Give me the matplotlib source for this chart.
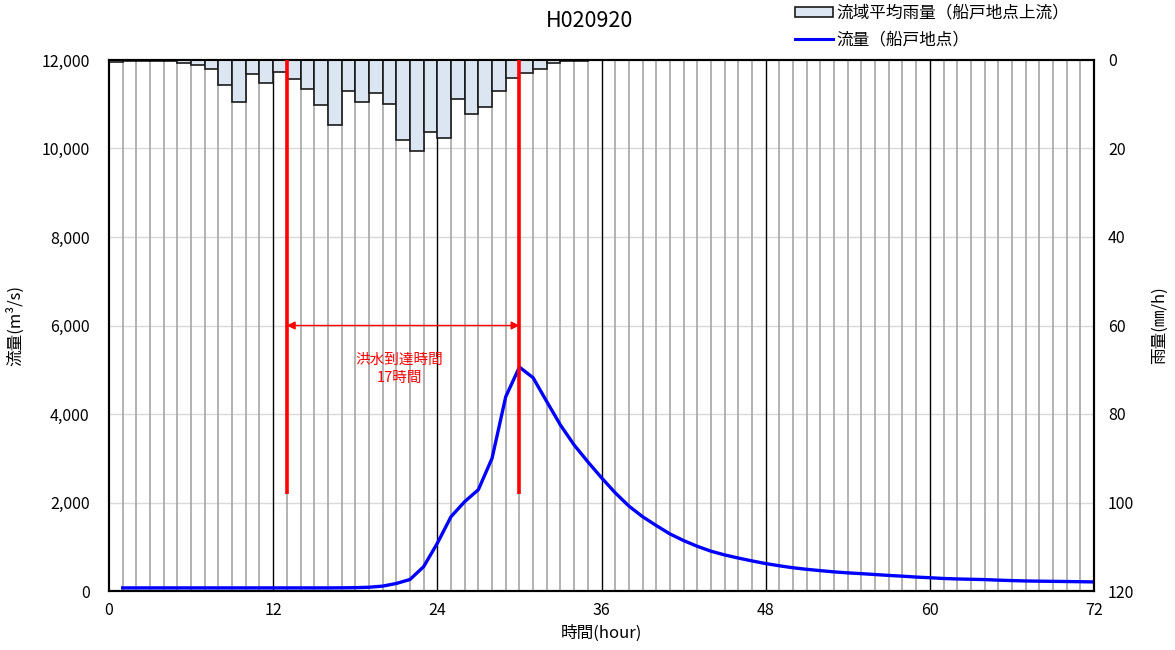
import matplotlib
matplotlib.use("Agg")
import matplotlib.pyplot as plt
from matplotlib.patches import Patch
from matplotlib.lines import Line2D

plt.rcParams['font.family'] = ['Noto Sans CJK JP', 'DejaVu Sans']

title = "H020920"
rain_hours = list(range(0, 36))
rain_mm = [0.4, 0.3, 0.3, 0.3, 0.2, 0.7, 1.1, 2.0, 5.6, 9.6, 3.2, 5.3,
           2.7, 4.4, 6.6, 10.2, 14.7, 6.9, 9.6, 7.4, 10.0, 18.1, 20.6, 16.3,
           17.7, 8.8, 12.2, 10.7, 7.1, 4.1, 3.0, 2.0, 0.7, 0.2, 0.2, 0.1]
flow_hours = list(range(1, 73))
flow = [70, 70, 70, 70, 70, 70, 70, 70, 70, 70, 70, 70, 70, 70, 70, 70,
        72, 75, 85, 110, 170, 260, 550, 1080, 1680, 2020, 2290, 3000,
        4390, 5060, 4820, 4280, 3750, 3300, 2920, 2560, 2220, 1920, 1680,
        1480, 1290, 1140, 1010, 900, 815, 745, 680, 620, 570, 525, 490,
        460, 432, 410, 392, 372, 352, 335, 315, 300, 283, 272, 265, 258,
        245, 235, 227, 222, 218, 214, 210, 205]
x_ticks = [0, 12, 24, 36, 48, 60, 72]
flow_ticks = [0, 2000, 4000, 6000, 8000, 10000, 12000]
rain_ticks = [0, 20, 40, 60, 80, 100, 120]
arrival_start = 13
arrival_end = 30
red_line_bottom = 2200
arrow_level = 6000
rain_label = "流域平均雨量（船戸地点上流）"
flow_label = "流量（船戸地点）"

fig = plt.figure(figsize=(11.75, 6.5), dpi=100)
ax = fig.add_axes([109/1175, 1-591/650, (1094-109)/1175, (591-60)/650])
ax.set_xlim(0, 72)
ax.set_ylim(0, 12000)

# grid lines
for h in range(1, 72):
    c = 'black' if h % 12 == 0 else '#a6a6a6'
    lw = 1.0 if h % 12 == 0 else 1.2
    ax.axvline(h, color=c, lw=lw, zorder=1)
for v in flow_ticks[1:-1]:
    ax.axhline(v, color='#d9d9d9', lw=1.0, zorder=0.5)

ax.plot(flow_hours, flow, color='#0000ff', lw=2.4, zorder=5)

ax.annotate('', xy=(arrival_start, arrow_level), xytext=(arrival_end, arrow_level),
            arrowprops=dict(arrowstyle='<|-|>', color='#ff0000', lw=1.0,
                            mutation_scale=12, shrinkA=0, shrinkB=0), zorder=6)
ax.text(21.2, 5380, "洪水到達時間\n17時間",
        color='#ff0000', fontsize=10.5, ha='center', va='top', linespacing=1.4, zorder=6)

ax.set_xticks(x_ticks)
ax.set_yticks(flow_ticks)
ax.set_yticklabels([f"{v:,}" for v in flow_ticks])
ax.tick_params(axis='y', length=0, labelsize=11.5, pad=14)
ax.tick_params(axis='x', length=0, labelsize=11.5, pad=8)
ax.set_xlabel("時間(hour)", fontsize=12, labelpad=4)
ax.set_ylabel("流量(m³/s)", fontsize=12, labelpad=12)

ax2 = ax.twinx()
ax2.set_ylim(120, 0)
ax2.bar(rain_hours, rain_mm, width=1.0, align='edge', color='#dce6f2',
        edgecolor='#1a1a1a', lw=1.2, zorder=2)
for xv in (arrival_start, arrival_end):
    ax2.plot([xv, xv], [red_line_bottom, 12000], transform=ax.transData,
             color='#ff0000', lw=2.6, zorder=7, solid_capstyle='butt')
ax2.set_xlim(0, 72)
ax2.set_ylim(120, 0)
ax2.set_yticks(rain_ticks)
ax2.tick_params(axis='y', length=0, labelsize=11.5, pad=10)
ax2.set_ylabel("雨量(㎜/h)", fontsize=12, labelpad=12)

for a in (ax, ax2):
    for s in a.spines.values():
        s.set_linewidth(1.5)
        s.set_color('black')

fig.text(590/1175, 1-21/650, title, fontsize=15.5, ha='center', va='center')

handles = [Patch(facecolor='#dce6f2', edgecolor='#1a1a1a', lw=1.2),
           Line2D([0], [0], color='#0000ff', lw=2.2)]
fig.legend(handles, [rain_label, flow_label], loc='upper left',
           bbox_to_anchor=(793/1175, 1.0 - 3/650), frameon=False, fontsize=12,
           handlelength=2.3, handleheight=0.55, handletextpad=0.2,
           labelspacing=0.6, borderaxespad=0.0, borderpad=0.1)

fig.savefig("out.png", dpi=100)
